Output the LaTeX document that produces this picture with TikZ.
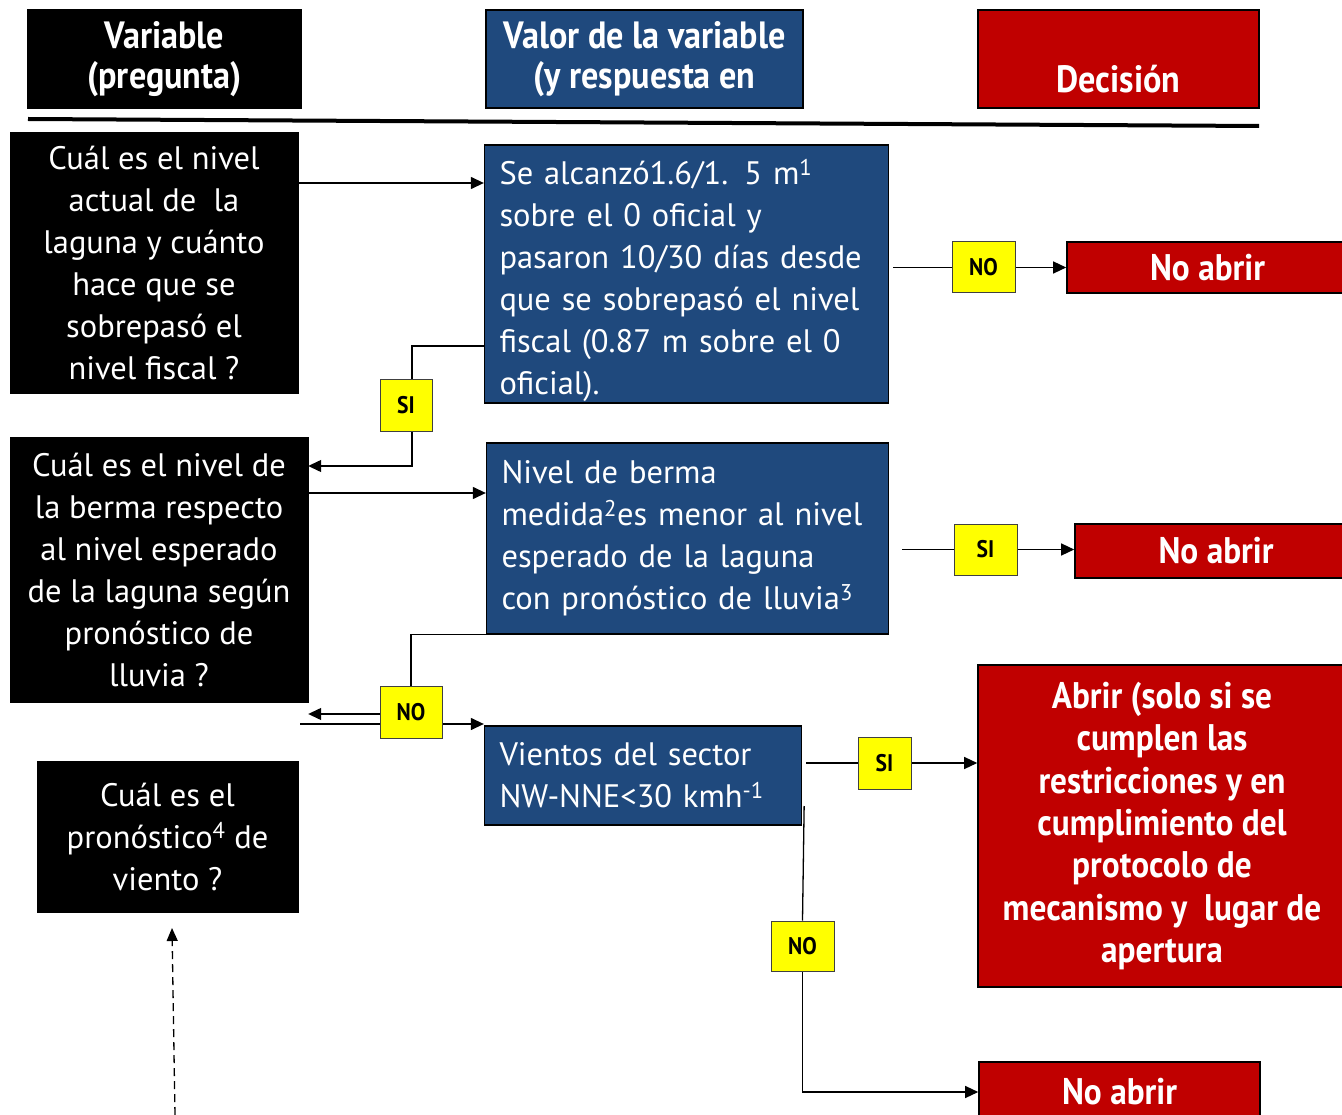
\documentclass[tikz,border=0pt]{standalone}
\usepackage{fontspec}
\setmainfont{PT Sans}
\newfontfamily\condf[FakeStretch=0.9]{PT Sans}
\usetikzlibrary{arrows.meta,backgrounds}
\definecolor{bluebox}{HTML}{1F497D}
\definecolor{redbox}{HTML}{C00000}
\definecolor{ylw}{HTML}{FFFF00}
\newcommand{\bodytxt}{\fontsize{32.5}{42}\selectfont}
\newcommand{\hdrtxt}{\condf\bfseries\fontsize{38}{40}\selectfont}
\newcommand{\redtxt}{\condf\bfseries\fontsize{37}{42.3}\selectfont}
\newcommand{\labtxt}{\condf\bfseries\fontsize{24}{26}\selectfont}
\tikzset{
  qbox/.style={rectangle, fill=black, draw=black, text=white, font=\bodytxt, align=center, inner sep=0pt},
  abox/.style={rectangle, fill=bluebox, draw=black, line width=1.3pt, text=white, font=\bodytxt, align=left, inner xsep=15pt, inner ysep=0pt},
  hbox/.style={rectangle, draw=black, line width=1.3pt, text=white, font=\hdrtxt, align=center, inner sep=0pt},
  rbox/.style={rectangle, fill=redbox, draw=black, line width=1.6pt, text=white, font=\redtxt, align=center, inner sep=0pt},
  ybox/.style={rectangle, fill=ylw, draw=black!75, line width=1pt, font=\labtxt, inner sep=0pt},
  ln/.style={line width=1.3pt, draw=black},
  arr/.style={ln, -{Triangle[length=13pt,width=12pt]}},
}
\begin{document}
\begin{tikzpicture}[x=1pt,y=-1pt]
\useasboundingbox (0,0) rectangle (1342,1115);
% headers
\node[hbox, fill=black, minimum width=273, minimum height=98] (hvar) at (164.5,59) {Variable\\(pregunta)};
\node[hbox, fill=bluebox, minimum width=317, minimum height=98] (hval) at (644.5,59) {Valor de la variable\\(y respuesta en};
\node[hbox, fill=redbox, minimum width=281, minimum height=98] (hdec) at (1118.5,59) {\strut\\Decisión};
\draw[line width=4pt] (28,119) -- (1259,126);
% questions
\node[qbox, minimum width=288, minimum height=261] (q1) at (154,262.5) {Cuál es el nivel\\actual de\ \ la\\laguna y cuánto\\hace que se\\sobrepasó el\\nivel fiscal ?};
\node[qbox, minimum width=298, minimum height=265] (q2) at (159,569.5) {Cuál es el nivel de\\la berma respecto\\al nivel esperado\\de la laguna según\\pronóstico de\\lluvia ?};
\node[qbox, minimum width=261, minimum height=151] (q3) at (167.5,836.5) {Cuál es el\\pronóstico\textsuperscript{4} de\\viento ?};
% answers
\node[abox, text width=374, minimum height=258] (a1) at (686.5,274) {\rule{0pt}{38pt}Se alcanzó1.6/1. 5 m\textsuperscript{1}\\sobre el 0 oficial y\\pasaron 10/30 días desde\\que se sobrepasó el nivel\\fiscal (0.87 m sobre el 0\\oficial).};
\node[abox, text width=372, minimum height=191] (a2) at (687.5,538.5) {Nivel de berma\\medida\textsuperscript{2}es menor al nivel\\esperado de la laguna\\con pronóstico de lluvia\textsuperscript{3}};
\node[abox, text width=287, minimum height=99] (a3) at (643,775.5) {Vientos del sector\\NW-NNE<30 kmh\textsuperscript{-1}};
% decisions
\node[rbox, minimum width=281, minimum height=51] (r1) at (1207.5,267.5) {No abrir};
\node[rbox, minimum width=282, minimum height=54] (r2) at (1216,551) {No abrir};
\node[rbox, minimum width=368, minimum height=322] (r3) at (1162,826) {Abrir (solo si se\\cumplen las\\restricciones y en\\cumplimiento del\\protocolo de\\mecanismo y\ \ lugar de\\apertura};
\node[rbox, minimum width=281, minimum height=60] (r4) at (1119.5,1092) {No abrir};
% labels
\node[ybox, minimum width=63, minimum height=51] (no1) at (983.5,267.5) {NO};
\node[ybox, minimum width=52, minimum height=51] (si1) at (406,405.5) {SI};
\node[ybox, minimum width=63, minimum height=51] (si2) at (985.5,549.5) {SI};
\node[ybox, minimum width=62, minimum height=52] (no2) at (411,712) {NO};
\node[ybox, minimum width=53, minimum height=52] (si3) at (884.5,763) {SI};
\node[ybox, minimum width=63, minimum height=50] (no3) at (802.5,946) {NO};
\coordinate (c724) at (300,724);
\coordinate (dstart) at (175,1115);
\coordinate (dend) at (172,928);
% connectors
\begin{scope}[on background layer]
\draw[arr] (q1.east |- 0,183) -- (a1.west |- 0,183);
\draw[ln] ([xshift=4pt]a1.east |- no1.west) -- (no1.west);
\draw[arr] (no1.east) -- (r1.west);
\draw[ln] (a1.west |- 0,346) -| ([xshift=6pt]si1.north);
\draw[arr] ([xshift=6pt]si1.south) |- (q2.east |- 0,466);
\draw[arr] (q2.east |- 0,493) -- (a2.west |- 0,493);
\draw[ln] ([xshift=13pt]a2.east |- si2.west) -- (si2.west);
\draw[arr] (si2.east) -- (r2.west |- si2.east);
\draw[ln] (a2.south west) -| (no2.north);
\draw[arr] (no2.west |- 0,714) -- (q2.east |- 0,714);
\draw[arr] (c724) -- (a3.west |- c724);
\draw[ln] ([xshift=4pt]a3.east |- si3.west) -- (si3.west);
\draw[arr] (si3.east) -- (r3.west |- si3.east);
\draw[ln] ([xshift=2pt]a3.east |- 0,806) -- (no3.north);
\draw[arr] (no3.south) |- (r4.west);
\draw[ln, dashed, dash pattern=on 8pt off 5pt, -{Triangle[length=13pt,width=11pt]}] (dstart) -- (dend);
\end{scope}
\end{tikzpicture}
\end{document}
